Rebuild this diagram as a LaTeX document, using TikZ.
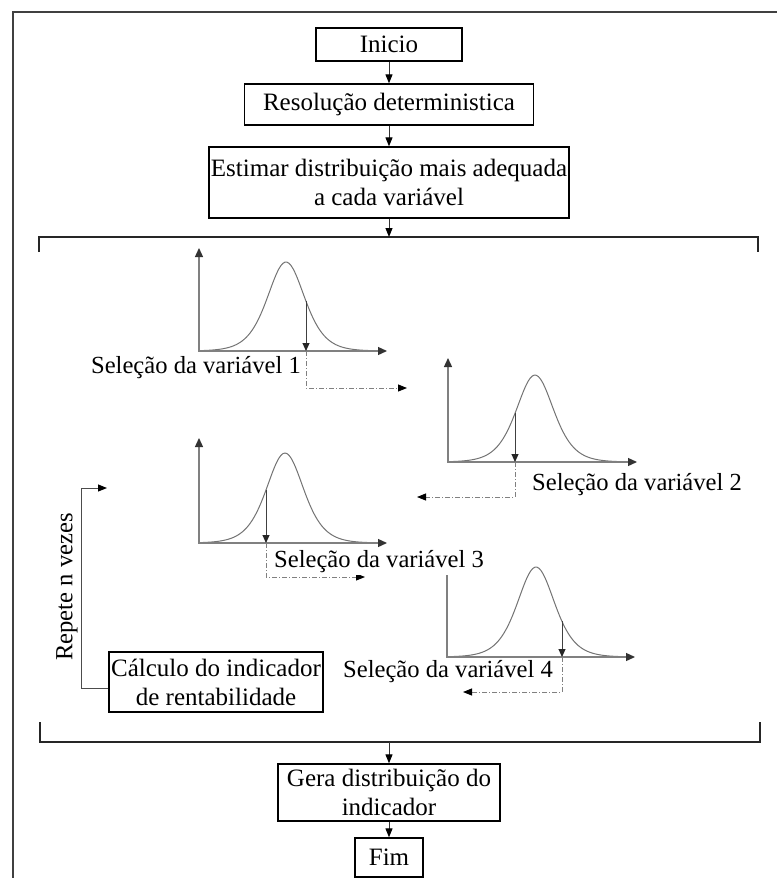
\documentclass[tikz,border=0pt]{standalone}
\usepackage{fontspec}
\setmainfont{Liberation Serif}
\usetikzlibrary{arrows.meta}

% One bell-shaped density with its axes and the arrow marking the sampled value.
% #1 name, #2 #3 axis origin, #4 axis height, #5 axis length,
% #6 peak offset, #7 peak height, #8 offset of the sampled value
\newcommand{\bellplot}[8]{%
  \pgfmathsetmacro\bpTop{#3-#4}%
  \pgfmathsetmacro\bpEnd{#2+#5}%
  \pgfmathsetmacro\bpDom{#5-6}%
  \pgfmathsetmacro\bpX{#2+#8}%
  \pgfmathsetmacro\bpSel{#3-#7/((cosh((#8-#6)/25))^2)}%
  \coordinate (#1-o) at (#2,#3);
  \coordinate (#1-top) at (#2,\bpTop);
  \coordinate (#1-end) at (\bpEnd,#3);
  \coordinate (#1-pick) at (\bpX,\bpSel);
  \coordinate (#1-foot) at (\bpX,#3);
  \draw[curve] plot[domain=0:\bpDom, samples=90, smooth]
    ({#2+\x}, {#3-#7/((cosh((\x-#6)/25))^2)});
  \draw[axis] (#1-top) -- (#1-o) -- (#1-end);
  \draw[pick] (#1-pick) -- (#1-foot);
}

\begin{document}
\begin{tikzpicture}[x=1pt, y=-1pt,
  stepbox/.style={draw=black, line width=1.3pt, inner sep=0pt, align=center,
    font=\fontsize{25}{29}\selectfont},
  lbl/.style={inner sep=0pt, font=\fontsize{24.6}{29}\selectfont},
  flow/.style={draw=black!80, line width=1pt, -{Triangle[length=9pt,width=7pt,color=black]}},
  frame/.style={draw=black!75, line width=2pt},
  bracket/.style={draw=black!85, line width=1.6pt},
  axis/.style={draw=black!50, line width=1.3pt,
    {Triangle[length=9pt,width=8pt,color=black!80]}-{Triangle[length=9pt,width=8pt,color=black!80]}},
  curve/.style={draw=black!55, line width=1pt},
  pick/.style={draw=black!75, line width=1pt, -{Triangle[length=8pt,width=7pt,color=black!85]}},
  select/.style={draw=black!50, line width=0.9pt, dash pattern=on 5pt off 2pt on 1pt off 2pt,
    -{Triangle[length=9pt,width=7pt,color=black]}},
  loopline/.style={draw=black!70, line width=1pt, -{Triangle[length=9pt,width=7pt,color=black]}}
]
\useasboundingbox (0,0) rectangle (777,878);

% outer frame (open at the right and bottom)
\draw[frame] (13,878) -- (13,12.3) -- (777,12.3);

% preparation steps
\node[stepbox, minimum width=146pt, minimum height=33pt] (inicio) at (389,44.5) {Inicio};
\node[stepbox, minimum width=289pt, minimum height=41pt] (resol) at (389,104.5) {Resolução deterministica};
\node[stepbox, minimum width=360pt, minimum height=71pt] (estim) at (389,182.5)
  {Estimar distribuição mais adequada\\a cada variável};
\draw[flow] (inicio) -- (resol);
\draw[flow] (resol) -- (estim);

% bracket enclosing the simulation loop
\coordinate (brtop) at (389,237);
\coordinate (brbot) at (389,742);
\draw[bracket] (39,252) -- (39,237) -- (758,237) -- (758,252);
\draw[bracket] (40,722) -- (40,742) -- (760,742) -- (760,722);
\draw[flow] (estim.south) -- (brtop);

% sampled variables
\bellplot{d1}{199}{351}{103}{188}{87}{89}{107}
\bellplot{d2}{448}{462}{104}{189}{87}{87}{67}
\bellplot{d3}{199}{543}{105}{188}{86}{90}{67}
\bellplot{d4}{447}{657}{105}{188}{89}{90}{115}

\draw[select] (d1-foot) -- ++(0,37) -- ++(101,0);
\draw[select] (d2-foot) -- ++(0,35) -- ++(-98,0);
\draw[select] (d3-foot) -- ++(0,34) -- ++(99,0);
\draw[select] (d4-foot) -- ++(0,35) -- ++(-99,0);

\node[lbl, anchor=east] (l1) at (301,368) {Seleção da variável 1};
\node[lbl, anchor=west] (l2) at (532,485) {Seleção da variável 2};
\node[lbl, anchor=west, fill=white, inner ysep=2pt] (l3) at (274,562) {Seleção da variável 3};
\node[lbl, anchor=west] (l4) at (343,672) {Seleção da variável 4};

% indicator and repetition loop
\node[stepbox, minimum width=214pt, minimum height=60pt] (calc) at (216,682)
  {Cálculo do indicador\\de rentabilidade};
\coordinate (loopin) at (107,488);
\draw[loopline] ([yshift=-6pt]calc.west) -- ++(-27,0) |- (loopin);
\node[lbl, rotate=90] (rep) at (67,587) {Repete n vezes};

% final steps
\node[stepbox, minimum width=222pt, minimum height=57pt] (gera) at (389,792.5)
  {Gera distribuição do\\indicador};
\node[stepbox, minimum width=68pt, minimum height=39pt] (fim) at (389,857.5) {Fim};
\draw[flow] (brbot) -- (gera);
\draw[flow] (gera) -- (fim);
\end{tikzpicture}
\end{document}
